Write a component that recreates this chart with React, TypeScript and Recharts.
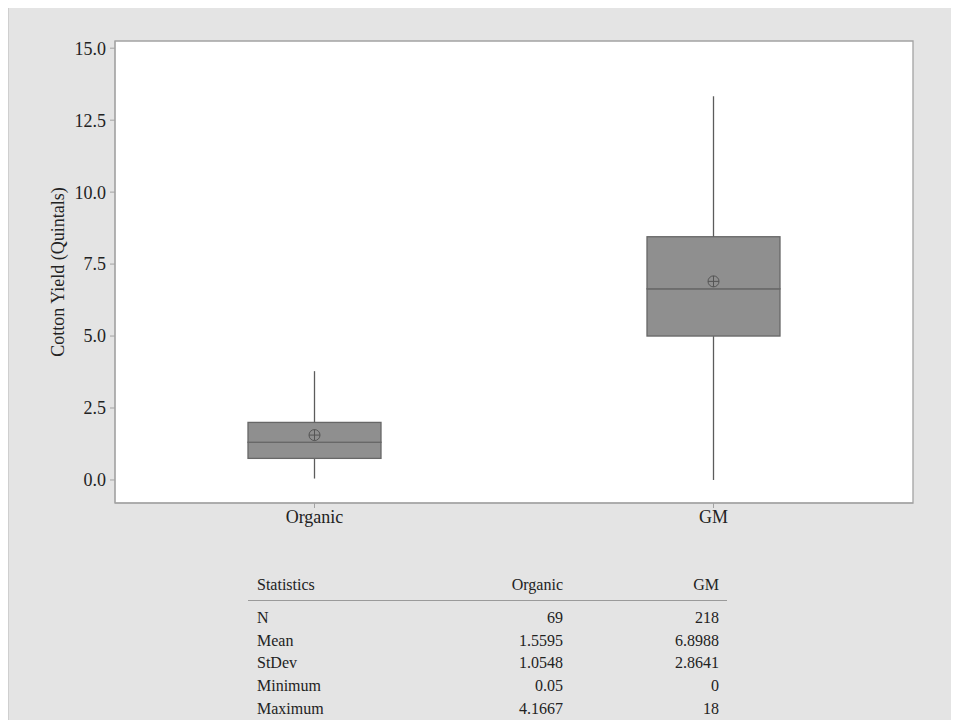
import React from "react";
import {
  ComposedChart,
  Bar,
  Scatter,
  XAxis,
  YAxis,
  CartesianGrid,
  ReferenceArea,
} from "recharts";

const categories = ["Organic", "GM"];
const whiskerLow = [0.05, 0];
const q1 = [0.75, 5.0];
const median = [1.31, 6.64];
const q3 = [2.0, 8.45];
const whiskerHigh = [3.78, 13.33];
const means = [1.5595, 6.8988];

const yDomain = [-0.8, 15.25];
const yTicks = [0, 2.5, 5, 7.5, 10, 12.5, 15];

const statNames = ["N", "Mean", "StDev", "Minimum", "Maximum"];
const organicStats = ["69", "1.5595", "1.0548", "0.05", "4.1667"];
const gmStats = ["218", "6.8988", "2.8641", "0", "18"];

// stacked segments: invisible base, lower whisker, two box halves, upper whisker
const data = categories.map((name, i) => ({
  name,
  base: whiskerLow[i],
  lowWhisker: q1[i] - whiskerLow[i],
  boxLow: median[i] - q1[i],
  boxHigh: q3[i] - median[i],
  highWhisker: whiskerHigh[i] - q3[i],
  mean: means[i],
}));

const FONT = "'Liberation Serif', 'Times New Roman', serif";
const TEXT = "#222";
const FRAME = "#a3a3a3";

const Whisker = (props: any) => {
  const { x, y, width, height } = props;
  const cx = x + width / 2;
  return <line x1={cx} x2={cx} y1={y} y2={y + height} stroke="#5c5c5c" strokeWidth={1.3} />;
};

const BoxPart = (props: any) => {
  const { x, y, width, height } = props;
  return <rect x={x} y={y} width={width} height={height} fill="#8f8f8f" stroke="#676767" strokeWidth={1.3} />;
};

const MeanSymbol = (props: any) => {
  const { cx, cy } = props;
  const r = 5.5;
  return (
    <g stroke="#555" strokeWidth={1} fill="none">
      <circle cx={cx} cy={cy} r={r} />
      <line x1={cx - r} x2={cx + r} y1={cy} y2={cy} />
      <line x1={cx} x2={cx} y1={cy - r} y2={cy + r} />
    </g>
  );
};

export default function App() {
  const tickStyle = { fill: TEXT, fontSize: 18, fontFamily: FONT };
  return (
    <div
      style={{
        position: "relative",
        width: 951,
        height: 712,
        background: "#e4e4e4",
        boxShadow: "inset 1px 0 0 #cfcfcf",
        fontFamily: FONT,
        color: TEXT,
      }}
    >
      <ComposedChart
        width={951}
        height={540}
        data={data}
        margin={{ top: 33, right: 46, left: 0, bottom: 15 }}
        barCategoryGap={0}
      >
        <CartesianGrid fill="#fff" horizontal={false} vertical={false} />
        <XAxis
          dataKey="name"
          type="category"
          height={30}
          tick={tickStyle}
          tickSize={5}
          tickMargin={2}
          tickLine={{ stroke: FRAME }}
          axisLine={{ stroke: FRAME }}
        />
        <YAxis
          type="number"
          domain={yDomain}
          ticks={yTicks}
          width={107}
          tick={tickStyle}
          tickSize={5}
          tickMargin={4}
          tickLine={{ stroke: FRAME }}
          axisLine={{ stroke: FRAME }}
          tickFormatter={(v: number) => v.toFixed(1)}
          label={{
            value: "Cotton Yield (Quintals)",
            angle: -90,
            position: "center",
            dx: -4,
            style: { fill: TEXT, fontSize: 18, fontFamily: FONT },
          }}
        />
        <Bar dataKey="base" stackId="box" fill="transparent" barSize={133} isAnimationActive={false} />
        <Bar dataKey="lowWhisker" stackId="box" barSize={133} shape={Whisker} isAnimationActive={false} />
        <Bar dataKey="boxLow" stackId="box" barSize={133} shape={BoxPart} isAnimationActive={false} />
        <Bar dataKey="boxHigh" stackId="box" barSize={133} shape={BoxPart} isAnimationActive={false} />
        <Bar dataKey="highWhisker" stackId="box" barSize={133} shape={Whisker} isAnimationActive={false} />
        <Scatter dataKey="mean" shape={MeanSymbol} isAnimationActive={false} />
        {/* frame round the plot area */}
        <ReferenceArea
          x1={categories[0]}
          x2={categories[categories.length - 1]}
          y1={yDomain[0]}
          y2={yDomain[1]}
          fill="none"
          fillOpacity={0}
          stroke={FRAME}
          strokeWidth={1.3}
          ifOverflow="visible"
        />
      </ComposedChart>

      <div style={{ position: "absolute", left: 240, top: 566, width: 479, fontSize: 16 }}>
        <div
          style={{
            display: "grid",
            gridTemplateColumns: "160px 146px 156px",
            padding: "0 8px 4px 9px",
            lineHeight: "22px",
            borderBottom: "1px solid #9a9a9a",
          }}
        >
          <span>Statistics</span>
          <span style={{ textAlign: "right" }}>Organic</span>
          <span style={{ textAlign: "right" }}>GM</span>
        </div>
        <div style={{ marginTop: 6 }}>
          {statNames.map((s, i) => (
            <div
              key={s}
              style={{
                display: "grid",
                gridTemplateColumns: "160px 146px 156px",
                padding: "0 8px 0 9px",
                lineHeight: "22.7px",
              }}
            >
              <span>{s}</span>
              <span style={{ textAlign: "right" }}>{organicStats[i]}</span>
              <span style={{ textAlign: "right" }}>{gmStats[i]}</span>
            </div>
          ))}
        </div>
      </div>
    </div>
  );
}
